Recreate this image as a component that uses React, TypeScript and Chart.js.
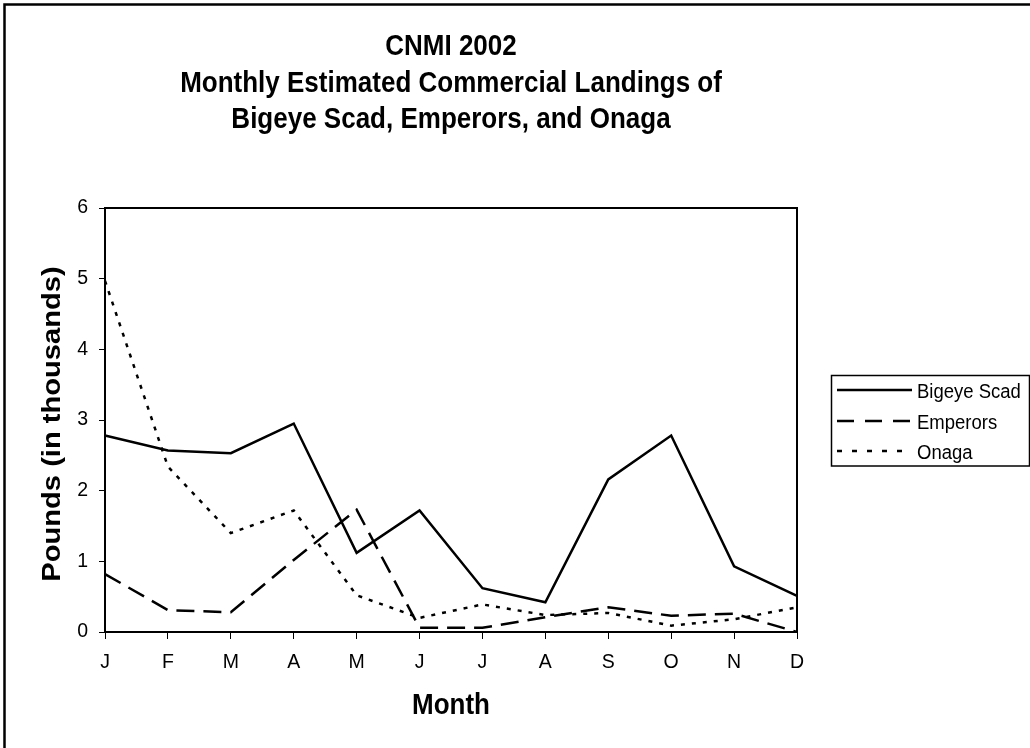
import React, { useEffect, useRef } from "react";
import { Chart, registerables } from "chart.js";

Chart.register(...registerables);

const months = ["J", "F", "M", "A", "M", "J", "J", "A", "S", "O", "N", "D"];
const bigeyeScad = [2.78, 2.57, 2.53, 2.95, 1.12, 1.72, 0.62, 0.42, 2.16, 2.78, 0.93, 0.51];
const emperors = [0.82, 0.31, 0.28, 1.02, 1.73, 0.06, 0.06, 0.21, 0.35, 0.23, 0.26, 0.0];
const onaga = [4.97, 2.34, 1.4, 1.72, 0.52, 0.2, 0.39, 0.24, 0.27, 0.09, 0.18, 0.35];
const titleLines = ["CNMI 2002", "Monthly Estimated Commercial Landings of", "Bigeye Scad, Emperors, and Onaga"];
const xTitle = "Month";
const yTitle = "Pounds (in thousands)";
const seriesNames = ["Bigeye Scad", "Emperors", "Onaga"];

const FONT = '"Liberation Sans", Arial, Helvetica, sans-serif';
const STRETCH = 1.12;
const dashes: number[][] = [[], [18, 9], [4, 7]];
const legendDashes: number[][] = [[], [17, 11], [5, 10]];

function stretchedText(ctx: CanvasRenderingContext2D, text: string, x: number, y: number, font: string, align: CanvasTextAlign, rot = 0) {
  ctx.save();
  ctx.translate(x, y);
  if (rot) ctx.rotate(rot);
  if (rot) ctx.scale(STRETCH, 1);
  else ctx.scale(1, STRETCH);
  ctx.font = font;
  ctx.fillStyle = "#000";
  ctx.textAlign = align;
  ctx.textBaseline = "alphabetic";
  ctx.fillText(text, 0, 0);
  ctx.restore();
}

const decorPlugin = {
  id: "decor",
  afterDraw(chart: any) {
    const ctx: CanvasRenderingContext2D = chart.ctx;
    const ca = chart.chartArea;
    ctx.save();
    // outer frame
    ctx.strokeStyle = "#000";
    ctx.lineWidth = 2.5;
    ctx.strokeRect(4.5, 4.5, 1100, 900);
    // plot border
    ctx.lineWidth = 2;
    ctx.strokeRect(ca.left, ca.top, ca.right - ca.left, ca.bottom - ca.top);
    // title
    const tf = `bold 26px ${FONT}`;
    const cx = (ca.left + ca.right) / 2;
    const baselines = [55, 92, 128];
    titleLines.forEach((t, i) => stretchedText(ctx, t, cx, baselines[i], tf, "center"));
    // x title
    stretchedText(ctx, xTitle, cx, 714, tf, "center");
    // y title (rotated)
    stretchedText(ctx, yTitle, 60, (ca.top + ca.bottom) / 2 + 4, tf, "center", -Math.PI / 2);
    // legend
    ctx.lineWidth = 1.5;
    ctx.strokeRect(831.5, 375.5, 198, 90.5);
    const rows = [390, 421, 451];
    const lf = `18.5px ${FONT}`;
    rows.forEach((ry, i) => {
      ctx.save();
      ctx.lineWidth = 2.5;
      ctx.setLineDash(legendDashes[i]);
      ctx.beginPath();
      ctx.moveTo(837, ry);
      ctx.lineTo(912, ry);
      ctx.stroke();
      ctx.restore();
      stretchedText(ctx, seriesNames[i], 917, ry + 7.5, lf, "left");
    });
    ctx.restore();
  },
};

export default function App() {
  const ref = useRef<HTMLCanvasElement | null>(null);
  useEffect(() => {
    if (!ref.current) return;
    Chart.defaults.font.family = FONT;
    const values = [bigeyeScad, emperors, onaga];
    const chart = new Chart(ref.current, {
      type: "line",
      data: {
        labels: months,
        datasets: values.map((v, i) => ({
          label: seriesNames[i],
          data: v,
          borderColor: "#000",
          backgroundColor: "#000",
          borderWidth: 2.5,
          borderDash: dashes[i],
          pointRadius: 0,
          tension: 0,
          fill: false,
        })),
      },
      options: {
        responsive: false,
        animation: false,
        devicePixelRatio: 1,
        layout: { padding: { top: 208, right: 233, left: 0, bottom: 0 } },
        plugins: { legend: { display: false }, title: { display: false }, tooltip: { enabled: false } },
        scales: {
          x: {
            type: "category",
            offset: false,
            afterFit: (s: any) => { s.height = 116; },
            grid: { drawOnChartArea: false, drawTicks: true, tickLength: 7, color: "#000", lineWidth: 1 },
            border: { display: true, color: "#000", width: 2 },
            ticks: { color: "#000", font: { size: 19.5, family: FONT }, padding: 12, maxRotation: 0, autoSkip: false },
          },
          y: {
            min: 0,
            max: 6,
            afterFit: (s: any) => { s.width = 105; },
            grid: { drawOnChartArea: false, drawTicks: true, tickLength: 6, color: "#000", lineWidth: 1 },
            border: { display: true, color: "#000", width: 2 },
            ticks: { stepSize: 1, color: "#000", font: { size: 19.5, family: FONT }, padding: 11 },
          },
        },
      },
      plugins: [decorPlugin],
    });
    return () => chart.destroy();
  }, []);
  return (
    <div style={{ position: "fixed", left: 0, top: 0, width: 1030, height: 748, background: "#fff" }}>
      <canvas ref={ref} width={1030} height={748} style={{ display: "block" }} />
    </div>
  );
}
